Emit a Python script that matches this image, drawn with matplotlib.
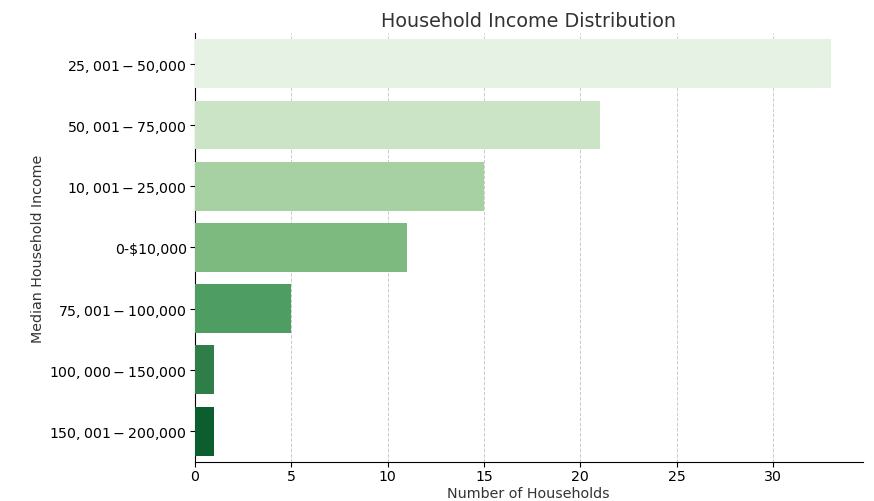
import matplotlib
matplotlib.use("Agg")
import matplotlib.pyplot as plt
import seaborn as sns

categories = ["$25,001-$50,000", "$50,001-$75,000", "$10,001-$25,000", "0-$10,000",
              "$75,001-$100,000", "$100,000-$150,000", "$150,001-$200,000"]
values = [33, 21, 15, 11, 5, 1, 1]

colors = [sns.desaturate(c, 0.75) for c in sns.color_palette("Greens", len(categories))]

fig, ax = plt.subplots(figsize=(8.74, 5.02), dpi=100)
y = list(range(len(categories)))
ax.barh(y, values, height=0.8, color=colors, zorder=3)
ax.set_yticks(y)
ax.set_yticklabels(categories, fontsize=10.2)
ax.set_ylim(len(categories) - 0.5, -0.5)
ax.set_xlim(0, 34.65)
ax.tick_params(axis='x', labelsize=10.2, length=3.5, pad=2)
ax.tick_params(axis='y', length=3.5, pad=2)
ax.grid(axis='x', linestyle='--', color='#cccccc', linewidth=0.7, zorder=0)
ax.spines['top'].set_visible(False)
ax.spines['right'].set_visible(False)
ax.set_title("Household Income Distribution", fontsize=13.8, color='#333333', pad=5)
ax.set_xlabel("Number of Households", fontsize=10.3, color='#333333', labelpad=2)
ax.set_ylabel("Median Household Income", fontsize=10.3, color='#333333', labelpad=3)
plt.subplots_adjust(left=0.223, right=0.987, top=0.932, bottom=0.078)
fig.savefig("out.png", dpi=100)
